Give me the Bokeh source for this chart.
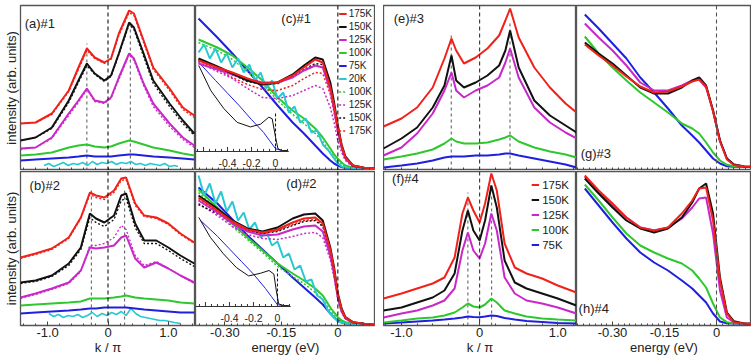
from bokeh.plotting import figure
from bokeh.models import Range1d, Span, Label, Legend, LegendItem, FixedTicker, Spacer
from bokeh.layouts import row, column
from bokeh.core.properties import value
from bokeh.embed import file_html
from bokeh.resources import INLINE

FONT = "Liberation Sans"
RED, BLACK, MAG, GRN, BLU, CYN = "#f0201a", "#111111", "#c828c8", "#2ec82e", "#1f1fe0", "#28c8d2"

# ---------------- axis ticks ----------------
k_ticks = [-1, 0, 1]
k_minor = [-1.4, -1.2, -1.0, -0.8, -0.6, -0.4, -0.2, 0.0, 0.2, 0.4, 0.6, 0.8, 1.0, 1.2, 1.4]
k_labels = {-1: "-1.0", 0: "0", 1: "1.0"}
e_ticks = [-0.3, -0.15, 0]
e_minor = [-0.4, -0.3833, -0.3667, -0.35, -0.3333, -0.3167, -0.3, -0.2833, -0.2667, -0.25, -0.2333,
           -0.2167, -0.2, -0.1833, -0.1667, -0.15, -0.1333, -0.1167, -0.1, -0.0833, -0.0667, -0.05,
           -0.0333, -0.0167, 0.0, 0.0167, 0.0333, 0.05, 0.0667, 0.0833, 0.1]
e_labels = {-0.3: "-0.30", -0.15: "-0.15", 0: "0"}
inset_major = [-0.6, -0.4, -0.2, 0.0]
inset_minor = [-0.65, -0.55, -0.5, -0.45, -0.35, -0.3, -0.25, -0.15, -0.1, -0.05, 0.05, 0.1]
inset_lab_x = [-0.4, -0.2, 0.0]
inset_lab_t = ["-0.4", "-0.2", "0"]

# ---------------- (a) #1 MDC ----------------
a_k = [-1.45, -1.2, -0.93, -0.65, -0.49, -0.35, -0.22, -0.06, 0.05, 0.18, 0.35, 0.43, 0.59, 0.75, 1.02, 1.24, 1.43]
a_175 = [47, 48, 57, 80, 103, 122, 113, 108, 112, 137, 160, 157, 130, 103, 82, 63, 55]
a_150 = [30, 33, 43, 70, 90, 107, 97, 90, 95, 117, 148, 143, 117, 90, 67, 50, 37]
a_125 = [22, 23, 33, 57, 70, 82, 70, 68, 73, 93, 117, 112, 87, 67, 47, 33, 25]
a_175d = [47, 48, 56, 79, 101, 120, 112, 107, 111, 135, 158, 155, 128, 101, 80, 61, 53]
a_150d = [30, 33, 42, 68, 88, 105, 96, 89, 94, 116, 146, 141, 114, 87, 64, 47, 35]
a_125d = [21, 23, 32, 55, 68, 81, 69, 67, 72, 91, 116, 110, 85, 64, 44, 31, 23]
a_100 = [15, 16, 18, 23, 25, 26, 24, 23, 24, 27, 30, 29, 26, 23, 20, 17, 15]
a_75 = [10, 11, 12, 13, 14, 15, 14, 14, 14, 15, 16, 16, 15, 14, 13, 12, 11]
a_cy_k = [-1.06, -0.98, -0.9, -0.82, -0.74, -0.66, -0.58, -0.5, -0.42, -0.34, -0.26, -0.18, -0.1, -0.02, 0.06,
          0.14, 0.22, 0.3, 0.38, 0.46, 0.54, 0.62, 0.7, 0.78, 0.86, 0.94, 1.02, 1.1, 1.16]
a_20 = [5, 7, 4, 6, 8, 5, 7, 6, 8, 5, 9, 6, 8, 7, 9, 6, 8, 7, 9, 6, 7, 5, 7, 6, 5, 7, 4, 5, 4]
a_kf = [-0.35, 0.37]
a_kf_top = [127, 145]

# ---------------- (b) #2 MDC ----------------
b_k = [-1.45, -1.2, -0.93, -0.65, -0.45, -0.3, -0.2, -0.06, 0.1, 0.22, 0.3, 0.45, 0.6, 0.8, 1.0, 1.2, 1.43]
b_175 = [68, 72, 77, 88, 108, 133, 130, 128, 135, 147, 148, 122, 110, 108, 102, 92, 83]
b_150 = [43, 45, 50, 62, 78, 112, 107, 103, 110, 130, 132, 102, 85, 85, 78, 70, 62]
b_125 = [28, 32, 37, 43, 55, 78, 77, 78, 80, 88, 90, 67, 58, 63, 57, 50, 43]
b_175d = [67, 71, 76, 87, 107, 131, 128, 126, 133, 145, 146, 120, 109, 107, 101, 91, 82]
b_150d = [42, 44, 49, 60, 76, 108, 103, 99, 106, 125, 127, 98, 82, 82, 75, 67, 59]
b_125d = [27, 31, 36, 42, 54, 80, 80, 82, 88, 100, 96, 70, 60, 64, 57, 50, 42]
b_100 = [20, 21, 22, 23, 24, 27, 27, 27, 28, 29, 30, 28, 27, 26, 25, 23, 22]
b_75 = [12, 13, 14, 15, 16, 17, 17, 18, 18, 18, 18, 17, 16, 15, 14, 13, 13]
b_cy_k = [-0.98, -0.9, -0.82, -0.74, -0.66, -0.58, -0.5, -0.42, -0.34, -0.26, -0.18, -0.1, -0.02, 0.06,
          0.14, 0.22, 0.3, 0.38, 0.46, 0.54, 0.62, 0.7, 0.78, 0.86, 0.94, 1.02, 1.1, 1.2]
b_20 = [12, 9, 11, 8, 10, 9, 11, 8, 10, 13, 9, 12, 10, 13, 11, 14, 10, 17, 12, 9, 8, 7, 6, 5, 5, 4, 3, 2]
b_kf = [-0.276, 0.276]
b_kf_top = [138, 138]

# ---------------- (c) #1 and (d) #2 EDC ----------------
E_cd = [-0.37, -0.32, -0.28, -0.24, -0.2, -0.16, -0.12, -0.09, -0.06, -0.04, -0.02, -0.01, 0.0, 0.01, 0.02, 0.04, 0.07, 0.1]
c_175 = [110, 103, 98, 92, 87, 88, 95, 103, 111, 108, 83, 65, 43, 25, 13, 5, 2.7, 2.3]
c_150 = [112, 104, 97, 90, 86, 88, 96, 105, 113, 111, 88, 68, 45, 26, 14, 5, 2.7, 2.3]
c_125 = [107, 101, 96, 91, 88, 88, 93, 100, 105, 103, 80, 61, 40, 23, 12, 4.5, 2.6, 2.3]
c_100 = [131, 123, 115, 103, 90, 73, 60, 52, 42, 33, 22, 16, 11.7, 8, 5, 2.7, 2.3, 2]
c_75 = [152, 133, 117, 100, 83, 65, 48, 37, 25, 17, 10, 7, 5, 3.5, 2.7, 2.3, 2, 2]
c_100d = [128, 120, 111, 99, 86, 70, 56, 47, 37, 29, 18, 13, 9, 6, 4, 2.5, 2.3, 2]
c_125d = [108, 99, 92, 82, 73, 72, 75, 80, 85, 82, 63, 48, 30, 18, 10, 3.3, 2.5, 2.3]
c_150d = [111, 103, 96, 89, 86, 87, 94, 101, 107, 106, 84, 64, 42, 24, 13, 5, 2.7, 2.3]
c_175d = [110, 101, 93, 86, 81, 80, 85, 92, 98, 97, 76, 58, 38, 22, 12, 4, 2.6, 2.3]
E_cy = [-0.37, -0.355, -0.34, -0.325, -0.31, -0.295, -0.28, -0.265, -0.25, -0.235, -0.22, -0.205, -0.19, -0.175,
        -0.16, -0.145, -0.13, -0.115, -0.1, -0.085, -0.07, -0.055, -0.04, -0.025, -0.01, 0.0, 0.01, 0.02, 0.04, 0.07, 0.1]
c_20 = [118, 126, 112, 122, 108, 117, 103, 112, 98, 106, 90, 98, 82, 90, 72, 78, 58, 64, 48, 52, 38, 40, 26, 20,
        12, 7, 4, 3, 2.5, 2.3, 2]
d_175 = [128, 115, 104, 96, 93, 96, 103, 107, 108, 102, 76, 56, 31, 16, 8, 3.3, 1.7, 1.5]
d_150 = [130, 117, 105, 97, 94, 98, 107, 111, 112, 105, 78, 58, 32, 17, 8.3, 3.3, 1.7, 1.5]
d_125 = [125, 113, 102, 94, 90, 91, 96, 99, 100, 94, 70, 51, 28, 14, 7, 3, 1.7, 1.5]
d_100 = [136, 118, 102, 88, 75, 62, 52, 45, 37, 30, 18, 13, 8.3, 5, 3.3, 2, 1.7, 1.5]
d_75 = [138, 122, 106, 90, 76, 62, 48, 38, 28, 21, 12, 8, 5, 3, 2, 1.5, 1.5, 1.5]
d_100d = [133, 116, 99, 86, 73, 59, 49, 42, 33, 26, 15, 10, 6, 4, 2.8, 1.8, 1.5, 1.5]
d_125d = [122, 110, 99, 91, 87, 86, 89, 92, 93, 88, 66, 48, 26, 13, 7, 3, 1.7, 1.5]
d_150d = [121, 112, 102, 95, 92, 94, 100, 104, 105, 99, 74, 54, 30, 15, 7.5, 3.2, 1.7, 1.5]
d_175d = [126, 114, 103, 95, 92, 95, 101, 105, 106, 100, 75, 55, 30, 16, 8, 3.2, 1.7, 1.5]
d_20 = [150, 130, 142, 122, 134, 114, 124, 105, 113, 96, 103, 88, 94, 80, 84, 68, 72, 56, 60, 44, 46, 30, 26, 14,
        8, 4, 3, 2, 1.7, 1.5, 1.5]
# insets (energy, normalized intensity)
c_in_e = [-0.64, -0.54, -0.43, -0.32, -0.21, -0.125, -0.056, -0.028, 0.0, 0.02, 0.055, 0.1]
c_in_black = [0.945, 0.67, 0.47, 0.32, 0.27, 0.30, 0.377, 0.36, 0.157, 0.03, 0.01, 0.01]
c_in_e2 = [-0.64, -0.5, -0.4, -0.3, -0.2, -0.1, -0.05, 0.0, 0.05]
c_in_blue = [0.98, 0.78, 0.64, 0.5, 0.35, 0.21, 0.12, 0.03, 0.01]
d_in_e = [-0.656, -0.56, -0.45, -0.34, -0.24, -0.14, -0.07, -0.03, -0.01, 0.01, 0.05, 0.095]
d_in_black = [0.99, 0.77, 0.585, 0.43, 0.34, 0.37, 0.4, 0.36, 0.18, 0.03, 0.01, 0.01]
d_in_e2 = [-0.64, -0.5, -0.4, -0.3, -0.2, -0.1, -0.05, 0.0, 0.05]
d_in_blue = [0.955, 0.78, 0.64, 0.5, 0.36, 0.2, 0.11, 0.02, 0.01]

# ---------------- (e) #3 and (f) #4 MDC ----------------
e_k = [-1.23, -1.0, -0.8, -0.6, -0.45, -0.36, -0.3, -0.2, -0.05, 0.1, 0.25, 0.33, 0.39, 0.5, 0.7, 0.9, 1.1, 1.24]
e_175 = [44, 52, 63, 83, 112, 132, 120, 107, 113, 122, 135, 150, 162, 133, 103, 83, 67, 58]
e_150 = [22, 32, 43, 63, 85, 115, 90, 83, 88, 95, 105, 120, 140, 103, 70, 55, 45, 38]
e_125 = [15, 23, 37, 57, 80, 98, 80, 73, 80, 85, 93, 108, 122, 93, 63, 48, 38, 32]
e_100 = [11, 14, 17, 21, 27, 32, 29, 27, 27, 28, 31, 33, 35, 29, 23, 19, 16, 13]
e_75 = [3, 5, 7, 10, 13, 14, 14, 14, 15, 15, 16, 17, 17, 15, 12, 9, 6, 3]
e_kf = [-0.363, 0.389]
e_kf_top = [138, 150]
f_k = [-1.23, -1.0, -0.8, -0.6, -0.45, -0.32, -0.22, -0.15, -0.08, 0.0, 0.07, 0.15, 0.22, 0.32, 0.45, 0.6, 0.8, 1.0, 1.24]
f_175 = [27, 32, 37, 42, 48, 68, 112, 128, 115, 103, 122, 152, 135, 82, 58, 52, 47, 40, 33]
f_150 = [15, 18, 23, 28, 35, 52, 95, 115, 95, 85, 105, 140, 118, 65, 43, 37, 32, 27, 20]
f_125 = [8, 12, 15, 20, 25, 37, 75, 93, 75, 67, 82, 112, 95, 48, 32, 25, 22, 18, 12]
f_100 = [3, 5, 7, 8, 10, 13, 18, 22, 19, 18, 21, 27, 23, 15, 12, 9, 7, 6, 5]
f_75 = [2, 3, 4, 5, 6, 7, 8, 9, 8.5, 8.3, 9, 10, 9.5, 7.5, 6, 4.5, 3.5, 2.5, 2]
f_kf = [-0.15, 0.154]
f_kf_top = [133, 130]

# ---------------- (g) #3 and (h) #4 EDC ----------------
E_gh = [-0.38, -0.34, -0.3, -0.26, -0.22, -0.18, -0.14, -0.1, -0.07, -0.05, -0.03, -0.01, 0.01, 0.03, 0.05, 0.08, 0.1]
g_175 = [126, 115, 105, 94, 84, 78, 79, 84, 89, 91, 84, 59, 29, 11, 5.5, 4, 3.7]
g_150 = [128, 117, 107, 95, 83, 77, 77, 83, 90, 93, 85, 60, 30, 12, 6, 4, 3.7]
g_125 = [147, 133, 120, 105, 88, 80, 80, 85, 90, 91, 83, 60, 30, 12, 6, 4, 3.7]
g_100 = [134, 117, 103, 90, 78, 68, 58, 47, 42, 37, 28, 18, 10, 5.7, 4.3, 3.7, 3.5]
g_75 = [156, 142, 127, 112, 93, 78, 62, 45, 35, 28, 20, 12, 7, 4.3, 3.7, 3.5, 3.5]
h_175 = [150, 135, 122, 108, 98, 95, 98, 112, 125, 137, 138, 105, 45, 12, 3.3, 2, 1.7]
h_150 = [147, 132, 118, 105, 97, 93, 97, 108, 123, 137, 142, 112, 48, 13, 4.3, 2, 1.7]
h_125 = [149, 133, 120, 108, 98, 95, 98, 107, 118, 127, 128, 92, 35, 8, 3.3, 2, 1.7]
h_100 = [141, 125, 108, 92, 80, 73, 67, 62, 55, 47, 38, 22, 8, 3.3, 2.3, 2, 1.7]
h_75 = [137, 120, 103, 87, 73, 63, 55, 45, 37, 30, 23, 12, 4, 2.3, 2, 1.7, 1.5]

temps5 = ["175K", "150K", "125K", "100K", "75K"]


def make(w, h, xr, yr, xt, xm, xl, xtitle, ylabel, mbl, mbt):
    p = figure(width=w, height=h, x_range=Range1d(*xr), y_range=Range1d(*yr),
               output_backend="svg", toolbar_location=None,
               min_border_left=mbl, min_border_right=0, min_border_top=mbt, min_border_bottom=0)
    p.xgrid.visible = False
    p.ygrid.visible = False
    p.outline_line_color = "#555555"
    p.outline_line_width = 1.3
    p.background_fill_color = "white"
    p.border_fill_color = "white"
    ax = p.xaxis[0]
    ax.major_tick_out = 0
    ax.minor_tick_out = 0
    ax.axis_line_color = None
    ax.major_tick_line_color = "#444444"
    ax.minor_tick_line_color = "#444444"
    if xtitle is None:
        # no labels on the top row: all ticks drawn as (unlabelled) minor ticks
        ax.ticker = FixedTicker(ticks=[], minor_ticks=xm)
        ax.minor_tick_in = 3
        ax.major_label_standoff = 0
    else:
        ax.ticker = FixedTicker(ticks=xt, minor_ticks=xm)
        ax.major_tick_in = 4
        ax.minor_tick_in = 2
        ax.major_label_overrides = xl
        ax.major_label_text_font_size = "13px"
        ax.major_label_text_font = FONT
        ax.major_label_text_color = "#222222"
        ax.major_label_standoff = 2
        ax.axis_label = xtitle
        ax.axis_label_text_font_size = "13px"
        ax.axis_label_text_font = FONT
        ax.axis_label_text_font_style = "normal"
        ax.axis_label_text_color = "#222222"
        ax.axis_label_standoff = 0
    ay = p.yaxis[0]
    if ylabel:
        ay.ticker = FixedTicker(ticks=[], minor_ticks=[])
        ay.axis_label = ylabel
        ay.axis_label_text_font_size = "13px"
        ay.axis_label_text_font = FONT
        ay.axis_label_text_font_style = "normal"
        ay.axis_label_text_color = "#222222"
        ay.axis_label_standoff = 2
        ay.major_tick_in = 0
        ay.major_tick_out = 0
        ay.minor_tick_in = 0
        ay.minor_tick_out = 0
        ay.major_tick_line_color = None
        ay.minor_tick_line_color = None
        ay.major_label_standoff = 0
        ay.axis_line_color = None
    else:
        ay.visible = False
    return p


def tag(p, x, y, text):
    p.add_layout(Label(x=x, y=y, text=text, text_font=FONT, text_font_size="13px",
                       text_color="#222222", text_baseline="middle"))


def center_dash(p, color="#111111"):
    p.add_layout(Span(location=0, dimension="height", line_color=color, line_dash="4 3", line_width=1.1))


def kf_dash(p, xs, tops):
    p.segment(x0=xs, y0=[0] * len(xs), x1=xs, y1=tops, line_color="#555555", line_dash="3 3", line_width=1)


def inset(p, xr, yr, e_b, v_b, e_u, v_u):
    p.extra_x_ranges = {"ix": Range1d(*xr)}
    p.extra_y_ranges = {"iy": Range1d(*yr)}
    kw = dict(x_range_name="ix", y_range_name="iy")
    p.line(e_u, v_u, line_color=BLU, line_width=1, **kw)
    p.line(e_b, v_b, line_color=BLACK, line_width=1, **kw)
    p.segment(x0=[0.0], y0=[0.0], x1=[0.0], y1=[0.42], line_color=BLACK, line_dash="3 2", line_width=1, **kw)
    p.segment(x0=[xr[0]], y0=[0.0], x1=[0.11], y1=[0.0], line_color="#333333", line_width=1.2, **kw)
    p.segment(x0=inset_major, y0=[0.0] * len(inset_major), x1=inset_major, y1=[0.05] * len(inset_major),
              line_color="#333333", line_width=1, **kw)
    p.segment(x0=inset_minor, y0=[0.0] * len(inset_minor), x1=inset_minor, y1=[0.028] * len(inset_minor),
              line_color="#333333", line_width=1, **kw)
    p.text(x=inset_lab_x, y=[-0.125] * len(inset_lab_x), text=inset_lab_t, text_font=value(FONT),
           text_font_size="10.5px", text_align="center", text_baseline="middle", text_color="#222222", **kw)


KR_L = (-1.45, 1.45)
KR_R = (-1.23, 1.24)
ER_L = (-0.378, 0.1)
ER_R = (-0.404, 0.101)
YT = (0, 165)
YB = (0, 154)
DOT_W = 1.3

# ---- (a)
fa = make(195, 170, KR_L, YT, k_ticks, k_minor, k_labels, None, "intensity (arb. units)", 18, 5)
center_dash(fa)
kf_dash(fa, a_kf, a_kf_top)
fa.line(a_cy_k, a_20, line_color=CYN, line_width=1.6)
fa.line(a_k, a_75, line_color=BLU, line_width=2)
fa.line(a_k, a_100, line_color=GRN, line_width=2)
fa.line(a_k, a_125d, line_color=MAG, line_width=DOT_W, line_dash="2 2")
fa.line(a_k, a_125, line_color=MAG, line_width=2)
fa.line(a_k, a_150d, line_color=BLACK, line_width=DOT_W, line_dash="2 2")
fa.line(a_k, a_150, line_color=BLACK, line_width=2)
fa.line(a_k, a_175d, line_color=RED, line_width=DOT_W, line_dash="2 2")
fa.line(a_k, a_175, line_color=RED, line_width=2)
tag(fa, -1.38, 147, "(a)#1")

# ---- (b)
fb = make(195, 187, KR_L, YB, k_ticks, k_minor, k_labels, "k / π", "intensity (arb. units)", 18, 1)
center_dash(fb)
kf_dash(fb, b_kf, b_kf_top)
fb.line(b_cy_k, b_20, line_color=CYN, line_width=1.6)
fb.line(b_k, b_75, line_color=BLU, line_width=2)
fb.line(b_k, b_100, line_color=GRN, line_width=2)
fb.line(b_k, b_125d, line_color=MAG, line_width=DOT_W, line_dash="2 2")
fb.line(b_k, b_125, line_color=MAG, line_width=2)
fb.line(b_k, b_150d, line_color=BLACK, line_width=DOT_W, line_dash="2 2")
fb.line(b_k, b_150, line_color=BLACK, line_width=2)
fb.line(b_k, b_175d, line_color=RED, line_width=DOT_W, line_dash="2 2")
fb.line(b_k, b_175, line_color=RED, line_width=2)
tag(fb, -1.30, 140, "(b)#2")


def edc_full(p, s175, s150, s125, s100, s75, s20, s100d, s125d, s150d, s175d, with_legend):
    center_dash(p)
    r75 = p.line(E_cd, s75, line_color=BLU, line_width=2)
    r100 = p.line(E_cd, s100, line_color=GRN, line_width=2)
    r100d = p.line(E_cd, s100d, line_color=GRN, line_width=1.5, line_dash="2 2")
    r20 = p.line(E_cy, s20, line_color=CYN, line_width=2)
    r125d = p.line(E_cd, s125d, line_color=MAG, line_width=1.5, line_dash="2 2")
    r175d = p.line(E_cd, s175d, line_color=RED, line_width=1.5, line_dash="2 2")
    r150d = p.line(E_cd, s150d, line_color=BLACK, line_width=1.5, line_dash="2 2")
    r125 = p.line(E_cd, s125, line_color=MAG, line_width=2)
    r150 = p.line(E_cd, s150, line_color=BLACK, line_width=2)
    r175 = p.line(E_cd, s175, line_color=RED, line_width=2)
    if with_legend:
        names = ["175K", "150K", "125K", "100K", "75K", "20K", "100K", "125K", "150K", "175K"]
        rs = [r175, r150, r125, r100, r75, r20, r100d, r125d, r150d, r175d]
        lg = Legend(items=[LegendItem(label=n, renderers=[r]) for n, r in zip(names, rs)],
                    location="top_right", margin=3, padding=0, spacing=2,
                    label_height=11, glyph_height=11, glyph_width=8, label_standoff=2,
                    label_text_font=FONT, label_text_font_size="10px", label_text_color="#222222",
                    background_fill_alpha=0, border_line_color=None)
        p.add_layout(lg)


# ---- (c)
fc = make(180, 170, ER_L, YT, e_ticks, e_minor, e_labels, None, None, 0, 5)
inset(fc, (-0.667, 0.833), (-0.209, 1.604), c_in_e, c_in_black, c_in_e2, c_in_blue)
edc_full(fc, c_175, c_150, c_125, c_100, c_75, c_20, c_100d, c_125d, c_150d, c_175d, True)
tag(fc, -0.15, 152, "(c)#1")

# ---- (d)
fd = make(180, 187, ER_L, YB, e_ticks, e_minor, e_labels, "energy (eV)", None, 0, 1)
inset(fd, (-0.683, 0.817), (-0.211, 1.5), d_in_e, d_in_black, d_in_e2, d_in_blue)
edc_full(fd, d_175, d_150, d_125, d_100, d_75, d_20, d_100d, d_125d, d_150d, d_175d, False)
tag(fd, -0.137, 142, "(d)#2")


def mdc5(p, xs, series, kf, kft):
    center_dash(p, "#333333")
    kf_dash(p, kf, kft)
    cols = [RED, BLACK, MAG, GRN, BLU]
    rs = []
    for s, c in list(zip(series, cols))[::-1]:
        rs.append(p.line(xs, s, line_color=c, line_width=2))
    return rs[::-1]


def edc5(p, xs, series):
    p.add_layout(Span(location=0, dimension="height", line_color="#555555", line_dash="4 3", line_width=1.1))
    cols = [RED, BLACK, MAG, GRN, BLU]
    for s, c in list(zip(series, cols))[::-1]:
        p.line(xs, s, line_color=c, line_width=2)


# ---- (e)
fe = make(193, 170, KR_R, YT, k_ticks, k_minor, k_labels, None, None, 0, 5)
mdc5(fe, e_k, [e_175, e_150, e_125, e_100, e_75], e_kf, e_kf_top)
tag(fe, -1.10, 152, "(e)#3")

# ---- (f)
ff = make(193, 187, KR_R, YB, k_ticks, k_minor, k_labels, "k / π", None, 0, 1)
rf = mdc5(ff, f_k, [f_175, f_150, f_125, f_100, f_75], f_kf, f_kf_top)
lgf = Legend(items=[LegendItem(label=n, renderers=[r]) for n, r in zip(temps5, rf)],
             location="top_right", margin=7, padding=0, spacing=2,
             label_height=13, glyph_height=13, glyph_width=8, label_standoff=3,
             label_text_font=FONT, label_text_font_size="11.5px", label_text_color="#222222",
             background_fill_alpha=0, border_line_color=None)
ff.add_layout(lgf)
tag(ff, -1.12, 147, "(f)#4")

# ---- (g)
fg = make(175, 170, ER_R, YT, e_ticks, e_minor, e_labels, None, None, 0, 5)
edc5(fg, E_gh, [g_175, g_150, g_125, g_100, g_75])
tag(fg, -0.392, 17, "(g)#3")

# ---- (h)
fh = make(175, 187, ER_R, YB, e_ticks, e_minor, e_labels, "energy (eV)", None, 0, 1)
edc5(fh, E_gh, [h_175, h_150, h_125, h_100, h_75])
tag(fh, -0.398, 17, "(h)#4")

top = row(fa, fc, Spacer(width=8, height=170), fe, fg, spacing=0)
bottom = row(fb, fd, Spacer(width=8, height=187), ff, fh, spacing=0)
layout = column(top, bottom, spacing=0)

open("out.html", "w").write(file_html(layout, INLINE))
